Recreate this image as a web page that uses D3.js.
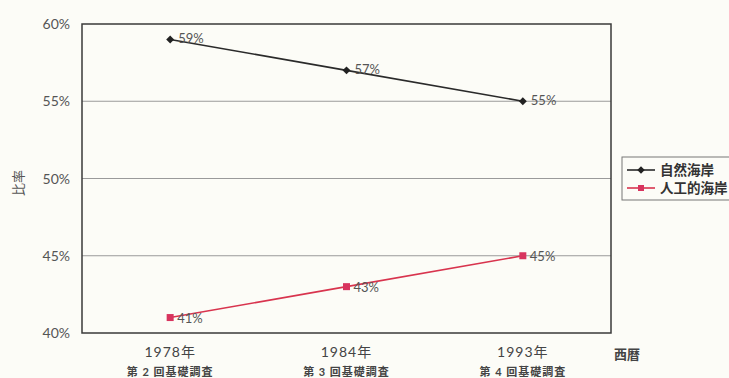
<!DOCTYPE html>
<html>
<head>
<meta charset="utf-8">
<script src="https://cdn.jsdelivr.net/npm/d3@7"></script>
<style>
body { margin: 0; background: #fcfcf7; }
text { font-family: "Lato", "Noto Sans CJK JP", sans-serif; }
</style>
</head>
<body>
<script>
var years = ["1978年", "1984年", "1993年"];
var surveys = ["第 2 回基礎調査", "第 3 回基礎調査", "第 4 回基礎調査"];
var natural = [59, 57, 55];
var artificial = [41, 43, 45];
var yTicks = [40, 45, 50, 55, 60];
var seriesNames = ["自然海岸", "人工的海岸"];

var svg = d3.select("body").append("svg")
    .attr("width", 729)
    .attr("height", 378);

svg.append("rect")
    .attr("width", 729).attr("height", 378)
    .attr("fill", "#fcfcf7");

var plotLeft = 82, plotRight = 611, plotTop = 24, plotBottom = 333;

var x = d3.scaleBand().domain(years).range([plotLeft, plotRight]);
var y = d3.scaleLinear().domain([40, 60]).range([plotBottom, plotTop]);

// gridlines
svg.selectAll("grid")
    .data([45, 50, 55])
    .enter()
    .append("line")
    .attr("x1", plotLeft).attr("x2", plotRight)
    .attr("y1", function(d){ return y(d); })
    .attr("y2", function(d){ return y(d); })
    .attr("stroke", "#9a9a9a")
    .attr("stroke-width", 1);

// plot frame
svg.append("rect")
    .attr("x", plotLeft).attr("y", plotTop)
    .attr("width", plotRight - plotLeft).attr("height", plotBottom - plotTop)
    .attr("fill", "none")
    .attr("stroke", "#3a3a3a")
    .attr("stroke-width", 1.5);

// y tick labels
svg.selectAll("ytick")
    .data(yTicks)
    .enter()
    .append("text")
    .attr("x", 70)
    .attr("y", function(d){ return y(d) + 5; })
    .attr("text-anchor", "end")
    .attr("font-size", "14px")
    .attr("fill", "#555")
    .text(function(d){ return d + "%"; });

svg.append("text")
    .attr("transform", "translate(23,183) rotate(-90)")
    .attr("text-anchor", "middle")
    .attr("font-size", "13px")
    .attr("fill", "#555")
    .text("比率");

// x labels
svg.selectAll("xyear")
    .data(years)
    .enter()
    .append("text")
    .attr("x", function(d){ return x(d) + x.bandwidth() / 2; })
    .attr("y", 357)
    .attr("text-anchor", "middle")
    .attr("font-size", "14px")
    .attr("letter-spacing", "1px")
    .attr("fill", "#444")
    .text(function(d){ return d; });

svg.selectAll("xsurvey")
    .data(surveys)
    .enter()
    .append("text")
    .attr("x", function(d, i){ return x(years[i]) + x.bandwidth() / 2; })
    .attr("y", 376)
    .attr("text-anchor", "middle")
    .attr("font-size", "11px")
    .attr("font-weight", "bold")
    .attr("letter-spacing", "1px")
    .attr("fill", "#444")
    .text(function(d){ return d; });

svg.append("text")
    .attr("x", 614).attr("y", 359)
    .attr("font-size", "13px")
    .attr("font-weight", "bold")
    .attr("fill", "#444")
    .text("西暦");

var cx = function(d, i){ return x(years[i]) + x.bandwidth() / 2; };
var line = d3.line()
    .x(function(d, i){ return x(years[i]) + x.bandwidth() / 2; })
    .y(function(d){ return y(d); });

// natural coast
svg.append("path")
    .attr("d", line(natural))
    .attr("fill", "none")
    .attr("stroke", "#2a2a2a")
    .attr("stroke-width", 1.6);
svg.selectAll("natpt")
    .data(natural)
    .enter()
    .append("path")
    .attr("d", d3.symbol().type(d3.symbolDiamond2).size(40))
    .attr("transform", function(d, i){ return "translate(" + cx(d, i) + "," + y(d) + ")"; })
    .attr("fill", "#222");
svg.selectAll("natlbl")
    .data(natural)
    .enter()
    .append("text")
    .attr("x", function(d, i){ return cx(d, i) + 8; })
    .attr("y", function(d){ return y(d) + 4; })
    .attr("font-size", "13px")
    .attr("fill", "#555")
    .text(function(d){ return d + "%"; });

// artificial coast
svg.append("path")
    .attr("d", line(artificial))
    .attr("fill", "none")
    .attr("stroke", "#d8344e")
    .attr("stroke-width", 1.6);
svg.selectAll("artpt")
    .data(artificial)
    .enter()
    .append("rect")
    .attr("x", function(d, i){ return cx(d, i) - 3.5; })
    .attr("y", function(d){ return y(d) - 3.5; })
    .attr("width", 7).attr("height", 7)
    .attr("fill", "#d8345e");
svg.selectAll("artlbl")
    .data(artificial)
    .enter()
    .append("text")
    .attr("x", function(d, i){ return cx(d, i) + 7; })
    .attr("y", function(d){ return y(d) + 5; })
    .attr("font-size", "13px")
    .attr("fill", "#555")
    .text(function(d){ return d + "%"; });

// legend
svg.append("rect")
    .attr("x", 622).attr("y", 157)
    .attr("width", 120).attr("height", 43)
    .attr("fill", "#fcfcf7")
    .attr("stroke", "#777")
    .attr("stroke-width", 1);

var legColors = ["#2a2a2a", "#d8344e"];
seriesNames.forEach(function(name, i){
    var ly = 170 + i * 18;
    svg.append("line")
        .attr("x1", 627).attr("x2", 655)
        .attr("y1", ly).attr("y2", ly)
        .attr("stroke", legColors[i])
        .attr("stroke-width", 1.6);
    if (i == 0) {
        svg.append("path")
            .attr("d", d3.symbol().type(d3.symbolDiamond2).size(36))
            .attr("transform", "translate(641," + ly + ")")
            .attr("fill", "#222");
    } else {
        svg.append("rect")
            .attr("x", 638).attr("y", ly - 3)
            .attr("width", 6).attr("height", 6)
            .attr("fill", "#d8345e");
    }
    svg.append("text")
        .attr("x", 660).attr("y", ly + 5)
        .attr("font-size", "13.5px")
        .attr("font-weight", "bold")
        .attr("fill", "#333")
        .text(name);
});
</script>
</body>
</html>
